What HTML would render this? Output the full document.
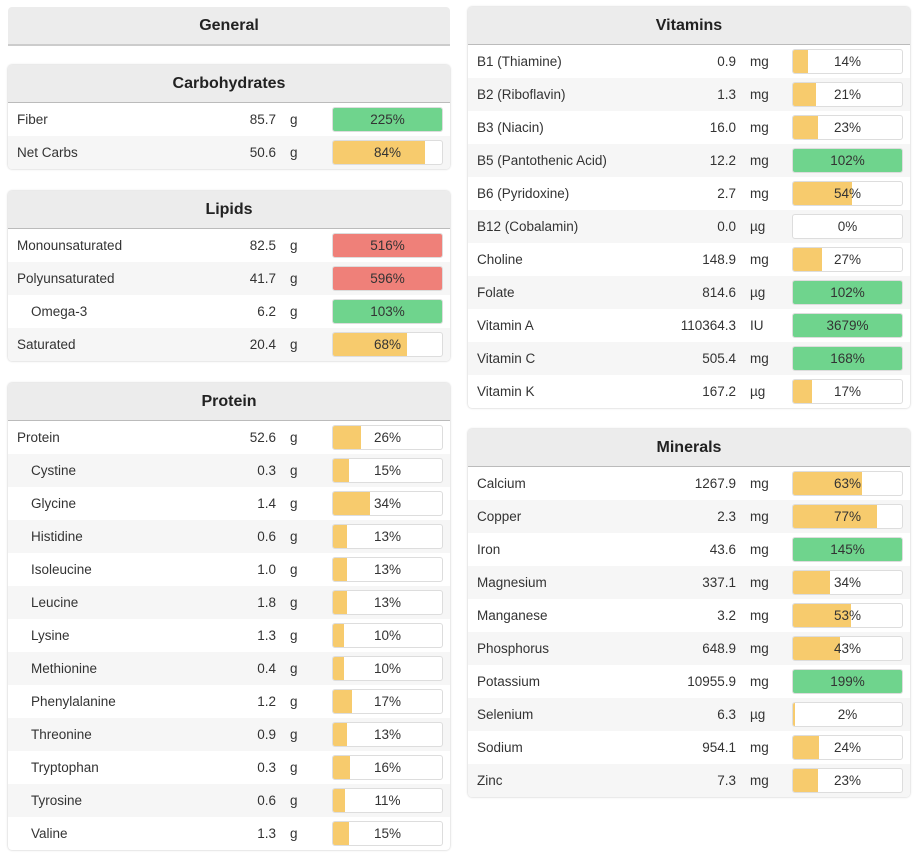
<!DOCTYPE html>
<html><head><meta charset="utf-8">
<style>
body{margin:0;width:913px;height:860px;background:#fff;font-family:"Liberation Sans",sans-serif;font-size:13.5px;color:#333;position:relative;overflow:hidden}
.panel{position:absolute;width:442px;border-radius:4px;box-shadow:0 0 2px rgba(0,0,0,.25);background:#fff;overflow:hidden}
.hdr{height:37px;line-height:37px;text-align:center;font-weight:bold;font-size:16px;color:#222;background:#ececec;border-bottom:1px solid #bbb}
.row{position:relative;height:33px;line-height:33px}
.row:nth-child(even){background:#f6f6f6}
.nm{position:absolute;left:9px}
.nm.ind{left:23px}
.val{position:absolute;right:174px;text-align:right}
.unit{position:absolute;left:282px}
.bar{position:absolute;left:324px;top:4px;width:109px;height:23px;border:1px solid #ddd;border-radius:3px;background:#fff;overflow:hidden}
.fill{position:absolute;left:0;top:0;bottom:0}
.pct{position:absolute;left:0;right:0;top:0;line-height:23px;text-align:center;color:#333}
</style></head><body>
<div class="panel" style="left:8px;top:7px;box-shadow:none;border-radius:4px 4px 0 0"><div class="hdr" style="border-bottom:2px solid #ccc">General</div></div>
<script>
const sections=[
{t:"Carbohydrates",x:8,y:65,names:["Fiber","Net Carbs"],vals:["85.7","50.6"],units:["g","g"],pcts:[225,84],ind:[0,0],red:[0,0]},
{t:"Lipids",x:8,y:191,names:["Monounsaturated","Polyunsaturated","Omega-3","Saturated"],vals:["82.5","41.7","6.2","20.4"],units:["g","g","g","g"],pcts:[516,596,103,68],ind:[0,0,1,0],red:[1,1,0,0]},
{t:"Protein",x:8,y:383,names:["Protein","Cystine","Glycine","Histidine","Isoleucine","Leucine","Lysine","Methionine","Phenylalanine","Threonine","Tryptophan","Tyrosine","Valine"],vals:["52.6","0.3","1.4","0.6","1.0","1.8","1.3","0.4","1.2","0.9","0.3","0.6","1.3"],units:["g","g","g","g","g","g","g","g","g","g","g","g","g"],pcts:[26,15,34,13,13,13,10,10,17,13,16,11,15],ind:[0,1,1,1,1,1,1,1,1,1,1,1,1],red:[]},
{t:"Vitamins",x:468,y:7,names:["B1 (Thiamine)","B2 (Riboflavin)","B3 (Niacin)","B5 (Pantothenic Acid)","B6 (Pyridoxine)","B12 (Cobalamin)","Choline","Folate","Vitamin A","Vitamin C","Vitamin K"],vals:["0.9","1.3","16.0","12.2","2.7","0.0","148.9","814.6","110364.3","505.4","167.2"],units:["mg","mg","mg","mg","mg","µg","mg","µg","IU","mg","µg"],pcts:[14,21,23,102,54,0,27,102,3679,168,17],ind:[],red:[]},
{t:"Minerals",x:468,y:429,names:["Calcium","Copper","Iron","Magnesium","Manganese","Phosphorus","Potassium","Selenium","Sodium","Zinc"],vals:["1267.9","2.3","43.6","337.1","3.2","648.9","10955.9","6.3","954.1","7.3"],units:["mg","mg","mg","mg","mg","mg","mg","µg","mg","mg"],pcts:[63,77,145,34,53,43,199,2,24,23],ind:[],red:[]}
];
sections.forEach(s=>{
  const p=document.createElement('div');p.className='panel';p.style.left=s.x+'px';p.style.top=s.y+'px';
  
  
  const h=document.createElement('div');h.className='hdr';h.textContent=s.t;
  
  
  p.appendChild(h);
  const body=document.createElement('div');p.appendChild(body);
  s.names.forEach((n,i)=>{
    const r=document.createElement('div');r.className='row';
    
    
    const pc=s.pcts[i];
    const col=s.red[i]?'#ef8079':(pc>=100?'#6fd48d':'#f7cb6d');
    r.innerHTML='<span class="nm'+(s.ind[i]?' ind':'')+'">'+n+'</span><span class="val">'+s.vals[i]+'</span><span class="unit">'+s.units[i]+'</span>';
    const b=document.createElement('div');b.className='bar';
    
    
    b.innerHTML='<div class="fill" style="width:'+Math.min(pc,100)+'%;background:'+col+'"></div><div class="pct">'+pc+'%</div>';
    r.appendChild(b);body.appendChild(r);
  });
  document.body.appendChild(p);
});
</script>
</body></html>
